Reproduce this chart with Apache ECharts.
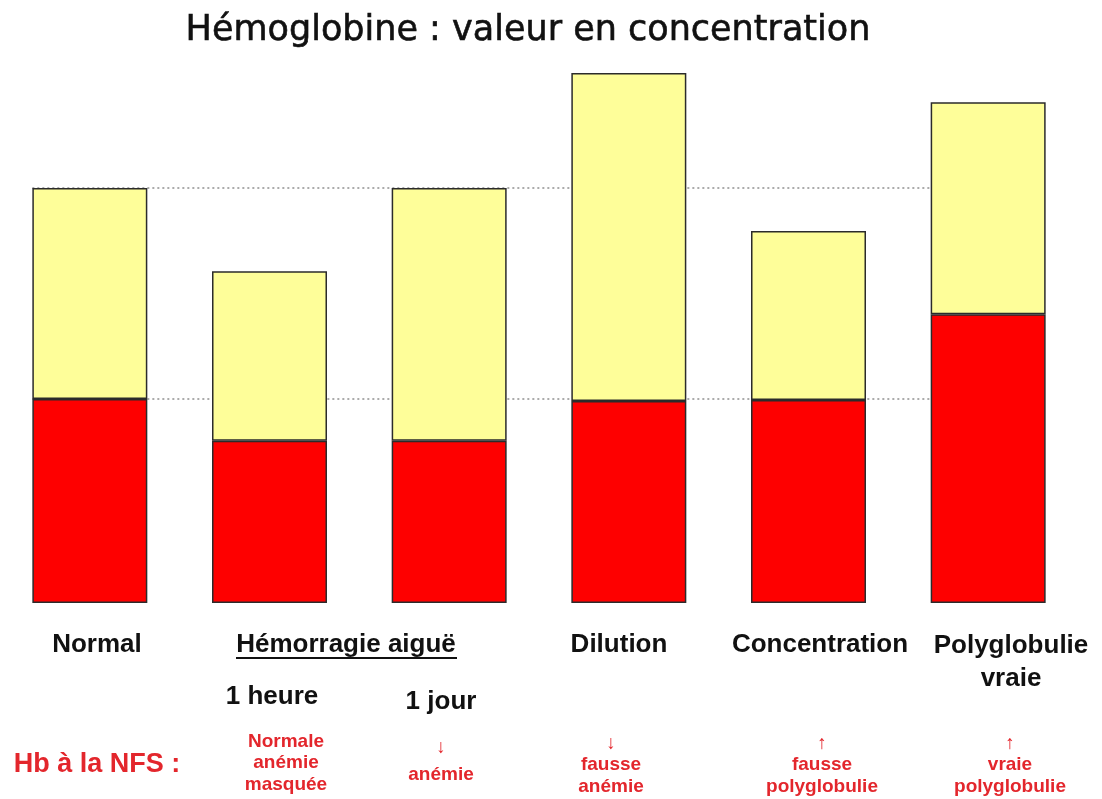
<!DOCTYPE html>
<html><head><meta charset="utf-8">
<script src="https://cdn.jsdelivr.net/npm/echarts@6/dist/echarts.min.js"></script>
<style>html,body{margin:0;padding:0;background:#fff}#c{width:1102px;height:799px}</style>
</head><body><div id="c"></div>
<script>
// Data
const categories = ['Normal', 'Hémorragie aiguë 1 heure', 'Hémorragie aiguë 1 jour', 'Dilution', 'Concentration', 'Polyglobulie vraie'];
const redCells = [38.5, 30.6, 30.6, 38.1, 38.3, 54.5];      // globules rouges (rouge)
const plasma   = [39.8, 32.0, 47.7, 61.9, 31.9, 40.0];      // plasma (jaune)
const titleText = 'Hémoglobine : valeur en concentration';
const nfsLabel = 'Hb à la NFS :';
const nfsNotes = ['', 'Normale\nanémie\nmasquée', '↓\nanémie', '↓\nfausse\nanémie', '↑\nfausse\npolyglobulie', '↑\nvraie\npolyglobulie'];

const normalRed = redCells[0];
const normalTotal = redCells[0] + plasma[0];
const halfBar = 0.32;

const chart = echarts.init(document.getElementById('c'));
const border = {borderColor: '#2b2b2b', borderWidth: 1.5};
const boldFont = 'Liberation Sans, Arial, sans-serif';
const red = '#e3262c';
const blk = 'bold 26px ' + boldFont;
const small = 'bold 19px ' + boldFont;

chart.setOption({
  animation: false,
  backgroundColor: '#fff',
  title: {
    text: titleText, left: 523, top: 8, textAlign: 'center',
    textStyle: {fontFamily: 'DejaVu Sans, sans-serif', fontWeight: 'normal', fontSize: 35, color: '#111',
                textBorderColor: '#111', textBorderWidth: 0.6}
  },
  grid: {left: 0, right: 24, top: 73, bottom: 196, containLabel: false},
  xAxis: [
    {type: 'category', data: categories, show: false},
    {type: 'value', min: -0.5, max: 5.5, show: false}
  ],
  yAxis: {type: 'value', min: 0, max: 100, show: false},
  series: [
    {type: 'line', xAxisIndex: 1, z: 1, symbol: 'none', silent: true,
     lineStyle: {type: [2, 3], color: '#ababab', width: 2},
     data: [[-halfBar, normalTotal], [categories.length - 1 + halfBar, normalTotal]]},
    {type: 'line', xAxisIndex: 1, z: 1, symbol: 'none', silent: true,
     lineStyle: {type: [2, 3], color: '#ababab', width: 2},
     data: [[-halfBar, normalRed], [categories.length - 1 + halfBar, normalRed]]},
    {type: 'bar', stack: 'hb', z: 3, barWidth: '64%', data: redCells,
     itemStyle: Object.assign({color: '#fe0000'}, border)},
    {type: 'bar', stack: 'hb', z: 3, data: plasma,
     itemStyle: Object.assign({color: '#fefe99'}, border)}
  ],
  graphic: [
    {type: 'text', x: 97, y: 645, style: {text: 'Normal', font: blk, fill: '#111', align: 'center', verticalAlign: 'middle'}},
    {type: 'text', x: 346, y: 645, style: {text: 'Hémorragie aiguë', font: blk, fill: '#111', align: 'center', verticalAlign: 'middle'}},
    {type: 'line', shape: {x1: 236, y1: 658, x2: 457, y2: 658}, style: {stroke: '#111', lineWidth: 2}},
    {type: 'text', x: 619, y: 645, style: {text: 'Dilution', font: blk, fill: '#111', align: 'center', verticalAlign: 'middle'}},
    {type: 'text', x: 820, y: 645, style: {text: 'Concentration', font: blk, fill: '#111', align: 'center', verticalAlign: 'middle'}},
    {type: 'text', x: 1011, y: 662, style: {text: 'Polyglobulie\nvraie', font: blk, lineHeight: 33, fill: '#111', align: 'center', verticalAlign: 'middle'}},
    {type: 'text', x: 272, y: 697, style: {text: '1 heure', font: blk, fill: '#111', align: 'center', verticalAlign: 'middle'}},
    {type: 'text', x: 441, y: 702, style: {text: '1 jour', font: blk, fill: '#111', align: 'center', verticalAlign: 'middle'}},
    {type: 'text', x: 97, y: 765, style: {text: nfsLabel, font: 'bold 27px ' + boldFont, fill: red, align: 'center', verticalAlign: 'middle'}},
    {type: 'text', x: 286, y: 763, style: {text: nfsNotes[1], font: small, lineHeight: 21.5, fill: red, align: 'center', verticalAlign: 'middle'}},
    {type: 'text', x: 441, y: 761, style: {text: nfsNotes[2], font: small, lineHeight: 27, fill: red, align: 'center', verticalAlign: 'middle'}},
    {type: 'text', x: 611, y: 765, style: {text: nfsNotes[3], font: small, lineHeight: 21.5, fill: red, align: 'center', verticalAlign: 'middle'}},
    {type: 'text', x: 822, y: 765, style: {text: nfsNotes[4], font: small, lineHeight: 21.5, fill: red, align: 'center', verticalAlign: 'middle'}},
    {type: 'text', x: 1010, y: 765, style: {text: nfsNotes[5], font: small, lineHeight: 21.5, fill: red, align: 'center', verticalAlign: 'middle'}}
  ]
});
</script></body></html>
